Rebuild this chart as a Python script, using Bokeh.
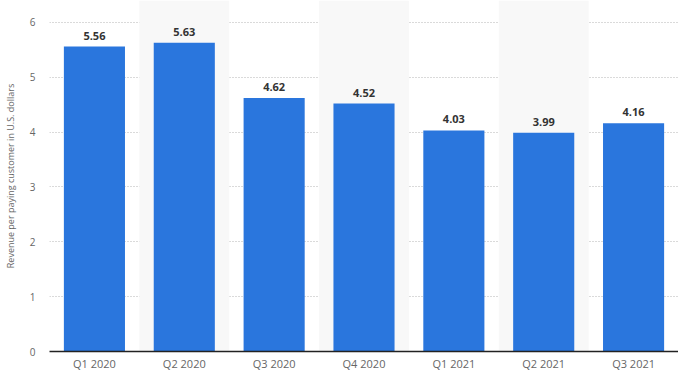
from bokeh.plotting import figure
from bokeh.models import ColumnDataSource, Range1d, LabelSet
from bokeh.core.properties import value
from bokeh.embed import file_html
from bokeh.resources import INLINE

quarters = ["Q1 2020", "Q2 2020", "Q3 2020", "Q4 2020", "Q1 2021", "Q2 2021", "Q3 2021"]
revenue = [5.56, 5.63, 4.62, 4.52, 4.03, 3.99, 4.16]
y_ticks = [0, 1, 2, 3, 4, 5, 6]
y_end = 6.4

src = ColumnDataSource(dict(q=quarters, v=revenue, lbl=[f"{v:.2f}" for v in revenue]))
band_src = ColumnDataSource(dict(q=quarters[1::2], top=[y_end] * len(quarters[1::2])))

p = figure(x_range=quarters, y_range=Range1d(0, y_end), width=678, height=373,
           output_backend="svg", toolbar_location=None,
           min_border_left=0, min_border_right=0, min_border_top=0, min_border_bottom=0)
p.outline_line_color = None
p.background_fill_color = "white"

p.vbar(x="q", top="top", width=1.0, source=band_src, color="#f8f8f8", line_color=None)
p.vbar(x="q", top="v", width=0.68, source=src, color="#2a76dd", line_color=None)

labels = LabelSet(x="q", y="v", text="lbl", source=src, text_align="center",
                  text_baseline="bottom", y_offset=7, text_font=value("Open Sans"),
                  text_font_size="11px", text_font_style="bold", text_color="#333333")
p.add_layout(labels)

p.xgrid.grid_line_color = None
p.ygrid.grid_line_color = "#b5b5b5"
p.ygrid.grid_line_dash = "1 2"
p.ygrid.grid_line_width = 1
p.yaxis.ticker = y_ticks

p.yaxis.axis_line_color = None
p.yaxis.major_tick_line_color = None
p.yaxis.minor_tick_line_color = None
p.yaxis.major_tick_out = 0
p.yaxis.major_tick_in = 0
p.yaxis.minor_tick_out = 0
p.yaxis.major_label_text_font = "Open Sans"
p.yaxis.major_label_text_font_size = "10px"
p.yaxis.major_label_text_color = "#666666"
p.yaxis.major_label_standoff = 14
p.yaxis.axis_label = "Revenue per paying customer in U.S. dollars"
p.yaxis.axis_label_text_font = "Open Sans"
p.yaxis.axis_label_text_font_size = "9px"
p.yaxis.axis_label_text_font_style = "normal"
p.yaxis.axis_label_text_color = "#666666"
p.yaxis.axis_label_standoff = 10

p.xaxis.axis_line_color = "#222222"
p.xaxis.axis_line_width = 1.5
p.xaxis.major_tick_line_color = None
p.xaxis.minor_tick_line_color = None
p.xaxis.major_tick_out = 0
p.xaxis.major_tick_in = 0
p.xaxis.minor_tick_out = 0
p.xaxis.major_label_text_font = "Open Sans"
p.xaxis.major_label_text_font_size = "11px"
p.xaxis.major_label_text_color = "#666666"
p.xaxis.major_label_text_line_height = 0.8
p.xaxis.major_label_standoff = 4

open("out.html", "w").write(file_html(p, INLINE))
